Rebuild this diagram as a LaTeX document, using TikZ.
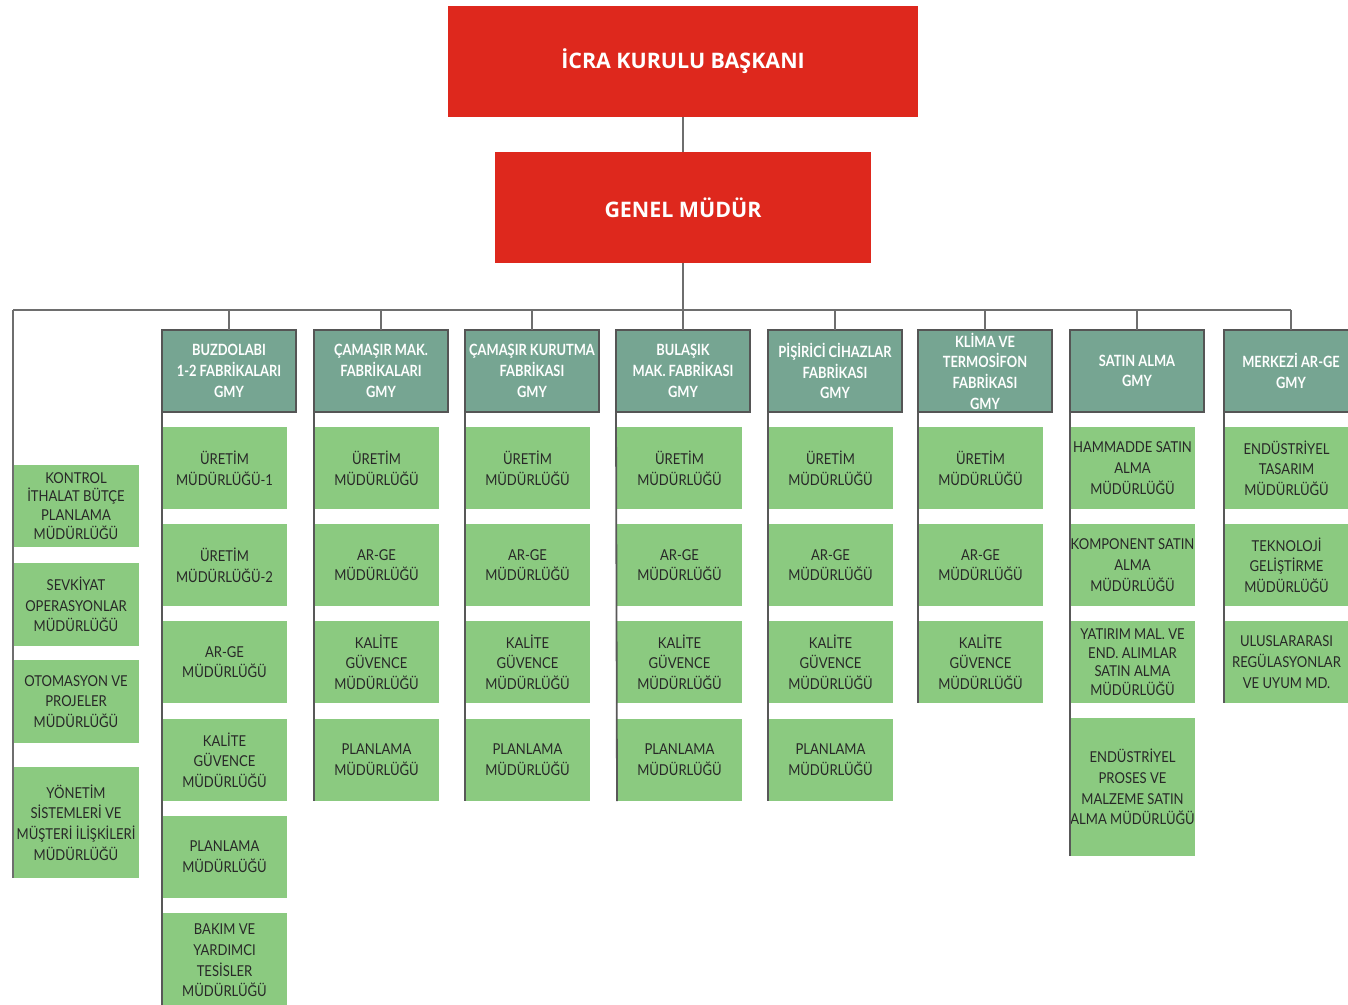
\documentclass[tikz,border=0pt]{standalone}
\usepackage{fontspec}
\newfontfamily\boxfont{Lato}[FakeStretch=0.87]
\newfontfamily\hdrfont{Lato}[FakeStretch=0.83]
\newfontfamily\redfont{Open Sans}
\definecolor{redbox}{RGB}{222,40,29}
\definecolor{greenbox}{RGB}{139,202,128}
\definecolor{hdrbox}{RGB}{118,165,146}
\definecolor{linegray}{RGB}{110,110,110}
\definecolor{bordergray}{RGB}{85,85,85}
\definecolor{txt}{RGB}{40,40,40}
\tikzset{
  base/.style={rectangle, anchor=north west, inner sep=0pt, outer sep=0pt, align=center},
  redb/.style={base, fill=redbox, text=white, font={\redfont\bfseries\fontsize{21.4}{26}\selectfont}},
  hdr/.style={base, fill=hdrbox, draw=bordergray, line width=1.8pt, text=white,
    minimum width=134pt, minimum height=82pt, font={\hdrfont\bfseries\fontsize{15.5}{20.7}\selectfont}},
  gb/.style={base, fill=greenbox, text=txt, minimum width=125pt, minimum height=82pt,
    font={\boxfont\fontsize{15}{20.7}\selectfont}},
  conn/.style={draw=linegray, line width=1.3pt},
  side/.style={draw=linegray!80!black, line width=1.8pt},
}
\begin{document}
\begin{tikzpicture}[x=1pt,y=-1pt]
\useasboundingbox (0,0) rectangle (1348,1004);
\clip (0,0) rectangle (1348,1004);
% top boxes
\node[redb, minimum width=470pt, minimum height=111pt] (icra) at (448,6) {İCRA KURULU BAŞKANI};
\node[redb, minimum width=376pt, minimum height=111pt] (gm) at (495,152) {GENEL MÜDÜR};
\coordinate (busL) at (13,310);
\coordinate (busR) at (1291,310);
% headers
\node[hdr] (h1) at (162,330) {BUZDOLABI\\1-2 FABRİKALARI\\GMY};
\node[hdr] (h2) at (314,330) {ÇAMAŞIR MAK.\\FABRİKALARI\\GMY};
\node[hdr] (h3) at (465,330) {ÇAMAŞIR KURUTMA\\FABRİKASI\\GMY};
\node[hdr] (h4) at (616,330) {BULAŞIK\\MAK. FABRİKASI\\GMY};
\node[hdr] (h5) at (768,330) {PİŞİRİCİ CİHAZLAR\\FABRİKASI\\GMY};
\node[hdr] (h6) at (918,330) {KLİMA VE\\TERMOSİFON\\FABRİKASI\\GMY};
\node[hdr] (h7) at (1070,330) {SATIN ALMA\\GMY};
\node[hdr] (h8) at (1224,330) {MERKEZİ AR-GE\\GMY};
% left column
\node[gb, minimum width=126pt, minimum height=82pt, font={\boxfont\fontsize{15}{18.8}\selectfont}] (l1) at (13,465) {KONTROL\\İTHALAT BÜTÇE\\PLANLAMA\\MÜDÜRLÜĞÜ};
\node[gb, minimum width=126pt, minimum height=83pt] (l2) at (13,563) {SEVKİYAT\\OPERASYONLAR\\MÜDÜRLÜĞÜ};
\node[gb, minimum width=126pt, minimum height=83pt] (l3) at (13,660) {OTOMASYON VE\\PROJELER\\MÜDÜRLÜĞÜ};
\node[gb, minimum width=126pt, minimum height=111pt] (l4) at (13,767) {YÖNETİM\\SİSTEMLERİ VE\\MÜŞTERİ İLİŞKİLERİ\\MÜDÜRLÜĞÜ};
% column 1
\node[gb] (a1) at (162,427) {ÜRETİM\\MÜDÜRLÜĞÜ-1};
\node[gb] (a2) at (162,524) {ÜRETİM\\MÜDÜRLÜĞÜ-2};
\node[gb] (a3) at (162,621) {AR-GE\\MÜDÜRLÜĞÜ};
\node[gb] (a4) at (162,719) {KALİTE\\GÜVENCE\\MÜDÜRLÜĞÜ};
\node[gb] (a5) at (162,816) {PLANLAMA\\MÜDÜRLÜĞÜ};
\node[gb, minimum height=95pt] (a6) at (162,913) {BAKIM VE\\YARDIMCI\\TESİSLER\\MÜDÜRLÜĞÜ};
% columns 2-5
\foreach \c/\x in {b/314,c/465,d/617,e/768}{
  \node[gb] (\c1) at (\x,427) {ÜRETİM\\MÜDÜRLÜĞÜ};
  \node[gb] (\c2) at (\x,524) {AR-GE\\MÜDÜRLÜĞÜ};
  \node[gb] (\c3) at (\x,621) {KALİTE\\GÜVENCE\\MÜDÜRLÜĞÜ};
  \node[gb] (\c4) at (\x,719) {PLANLAMA\\MÜDÜRLÜĞÜ};
}
% column 6
\node[gb] (f1) at (918,427) {ÜRETİM\\MÜDÜRLÜĞÜ};
\node[gb] (f2) at (918,524) {AR-GE\\MÜDÜRLÜĞÜ};
\node[gb] (f3) at (918,621) {KALİTE\\GÜVENCE\\MÜDÜRLÜĞÜ};
% column 7
\node[gb] (g1) at (1070,427) {HAMMADDE SATIN\\ALMA\\MÜDÜRLÜĞÜ};
\node[gb] (g2) at (1070,524) {KOMPONENT SATIN\\ALMA\\MÜDÜRLÜĞÜ};
\node[gb, font={\boxfont\fontsize{15}{18.5}\selectfont}] (g3) at (1070,621) {YATIRIM MAL. VE\\END. ALIMLAR\\SATIN ALMA\\MÜDÜRLÜĞÜ};
\node[gb, minimum height=138pt] (g4) at (1070,718) {ENDÜSTRİYEL\\PROSES VE\\MALZEME SATIN\\ALMA MÜDÜRLÜĞÜ};
% column 8
\node[gb] (k1) at (1224,427) {ENDÜSTRİYEL\\TASARIM\\MÜDÜRLÜĞÜ};
\node[gb] (k2) at (1224,524) {TEKNOLOJİ\\GELİŞTİRME\\MÜDÜRLÜĞÜ};
\node[gb] (k3) at (1224,621) {ULUSLARARASI\\REGÜLASYONLAR\\VE UYUM MD.};
% connectors
\draw[conn] (icra.south) -- (gm.north);
\draw[conn] (gm.south) -- (gm.south |- busL);
\draw[conn] (busL) -- (busR);
\foreach \h in {h1,h2,h3,h4,h5,h6,h7,h8}{
  \draw[conn] (\h.north) -- (\h.north |- busL);
}
\draw[conn] (busL) -- (l4.south west);
\draw[side] (h1.south west) -- (a6.south west);
\draw[side] (h2.south west) -- (b4.south west);
\draw[side] (h3.south west) -- (c4.south west);
\draw[side] (h4.south west) -- (d4.south west);
\draw[side] (h5.south west) -- (e4.south west);
\draw[side] (h6.south west) -- (f3.south west);
\draw[side] (h7.south west) -- (g4.south west);
\draw[side] (h8.south west) -- (k3.south west);
\end{tikzpicture}
\end{document}
